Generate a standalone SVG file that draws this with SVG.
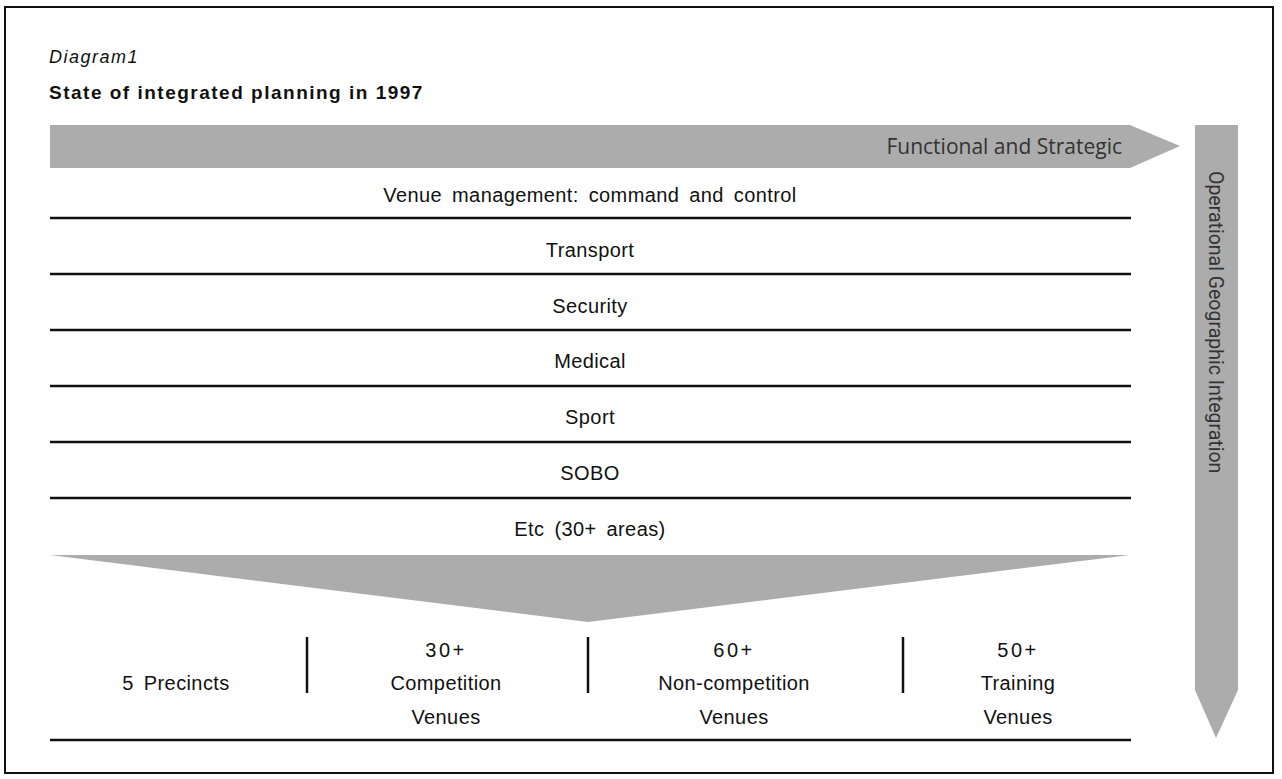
<svg xmlns="http://www.w3.org/2000/svg" width="1282" height="779" viewBox="0 0 1282 779">
<style>
.band{fill:#acacac}
.row{stroke:#111;stroke-width:2.5}
.div{stroke:#111;stroke-width:2.5}
.lbl{font-family:"Liberation Sans",Arial,sans-serif;font-size:20px;fill:#111;text-anchor:middle;letter-spacing:0.4px;word-spacing:4px}
.num{letter-spacing:2.5px}
.arrowtxt{font-family:"Open Sans","DejaVu Sans",sans-serif;font-size:21px;fill:#333}
</style>
<rect x="5" y="7" width="1268" height="766" fill="#fff" stroke="#111" stroke-width="2"/>
<g id="title">
<text x="49" y="63" font-family="Liberation Sans,Arial,sans-serif" font-style="italic" font-size="18" fill="#111" letter-spacing="1.5">Diagram1</text>
<text x="49" y="99" font-family="Liberation Sans,Arial,sans-serif" font-weight="bold" font-size="19" fill="#111" letter-spacing="1.5">State of integrated planning in 1997</text>
</g>
<g id="functional-arrow">
<polygon class="band" points="50,125 1130,125 1180,146 1130,168 50,168"/>
<text class="arrowtxt" x="1122" y="154" text-anchor="end">Functional and Strategic</text>
</g>
<g id="operational-arrow">
<polygon class="band" points="1195,125 1238,125 1238,690 1216,738 1195,690"/>
<text transform="translate(1209,171) rotate(90)" font-family="Roboto,sans-serif" font-size="19.5" fill="#333">Operational Geographic Integration</text>
</g>
<g id="connectors">
<line class="row" x1="50" y1="218" x2="1131" y2="218"/>
<line class="row" x1="50" y1="274" x2="1131" y2="274"/>
<line class="row" x1="50" y1="330" x2="1131" y2="330"/>
<line class="row" x1="50" y1="386" x2="1131" y2="386"/>
<line class="row" x1="50" y1="442" x2="1131" y2="442"/>
<line class="row" x1="50" y1="498" x2="1131" y2="498"/>
<line class="row" x1="50" y1="740" x2="1131" y2="740" stroke-width="3"/>
<line class="div" x1="307" y1="637" x2="307" y2="693"/>
<line class="div" x1="588" y1="637" x2="588" y2="693"/>
<line class="div" x1="903" y1="637" x2="903" y2="693"/>
</g>
<g id="row-venue"><text class="lbl" x="590" y="202">Venue management: command and control</text></g>
<g id="row-transport"><text class="lbl" x="590" y="257">Transport</text></g>
<g id="row-security"><text class="lbl" x="590" y="313">Security</text></g>
<g id="row-medical"><text class="lbl" x="590" y="368">Medical</text></g>
<g id="row-sport"><text class="lbl" x="590" y="424">Sport</text></g>
<g id="row-sobo"><text class="lbl" x="590" y="480">SOBO</text></g>
<g id="row-etc"><text class="lbl" x="590" y="536">Etc (30+ areas)</text></g>
<g id="funnel">
<polygon class="band" points="50,555 1130,555 588,622"/>
</g>
<g id="precincts"><text class="lbl" x="176" y="690">5 Precincts</text></g>
<g id="competition">
<text class="lbl num" x="446" y="657">30+</text>
<text class="lbl" x="446" y="690">Competition</text>
<text class="lbl" x="446" y="724">Venues</text>
</g>
<g id="noncompetition">
<text class="lbl num" x="734" y="657">60+</text>
<text class="lbl" x="734" y="690">Non-competition</text>
<text class="lbl" x="734" y="724">Venues</text>
</g>
<g id="training">
<text class="lbl num" x="1018" y="657">50+</text>
<text class="lbl" x="1018" y="690">Training</text>
<text class="lbl" x="1018" y="724">Venues</text>
</g>
</svg>
